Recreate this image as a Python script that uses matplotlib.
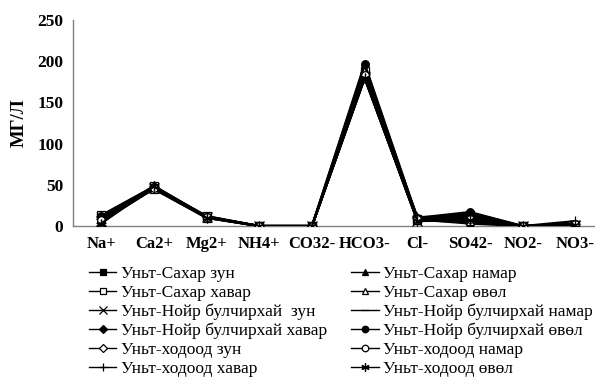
import matplotlib
matplotlib.use("Agg")
from matplotlib import pyplot as plt

ions = ["Na+", "Ca2+", "Mg2+", "NH4+", "CO32-", "HCO3-", "Cl-", "SO42-", "NO2-", "NO3-"]

sahar_zun = [12, 47, 11, 0, 0, 185, 9, 14, 0, 1]
sahar_namar = [10, 46, 11, 0, 0, 182, 8, 3, 0, 2]
sahar_havar = [13, 48, 12, 0, 0, 188, 8, 10, 0, 1]
sahar_uvul = [8, 45, 10, 0, 0, 180, 7, 6, 0, 2]
noir_zun = [6, 46, 11, 0, 0, 181, 6, 8, 0, 1]
noir_namar = [9, 47, 11, 0, 0, 184, 10, 12, 0, 3]
noir_havar = [11, 48, 12, 0, 0, 195, 9, 16, 0, 1]
noir_uvul = [12, 47, 11, 0, 0, 197, 10, 17, 0, 2]
hodood_zun = [5, 45, 10, 0, 0, 179, 7, 5, 0, 1]
hodood_namar = [7, 46, 11, 0, 0, 183, 8, 9, 0, 2]
hodood_havar = [4, 49, 11, 0, 0, 180, 11, 11, 0, 6]
hodood_uvul = [3, 48, 10, 0, 0, 180, 6, 7, 0, 1]

# (label, values, marker, filled)
left_col = [
    ("Уньт-Сахар зун", sahar_zun, "s", True),
    ("Уньт-Сахар хавар", sahar_havar, "s", False),
    ("Уньт-Нойр булчирхай  зун", noir_zun, "x", True),
    ("Уньт-Нойр булчирхай хавар", noir_havar, "D", True),
    ("Уньт-ходоод зун", hodood_zun, "D", False),
    ("Уньт-ходоод хавар", hodood_havar, "+", True),
]
right_col = [
    ("Уньт-Сахар намар", sahar_namar, "^", True),
    ("Уньт-Сахар өвөл", sahar_uvul, "^", False),
    ("Уньт-Нойр булчирхай намар", noir_namar, "_", True),
    ("Уньт-Нойр булчирхай өвөл", noir_uvul, "o", True),
    ("Уньт-ходоод намар", hodood_namar, "o", False),
    ("Уньт-ходоод өвөл", hodood_uvul, (6, 2, 0), True),
]

plt.rcParams["font.family"] = ["Liberation Serif", "DejaVu Serif"]

fig = plt.figure(figsize=(5.95, 3.78), dpi=100)
ax = fig.add_axes((0.123, 0.402, 0.877, 0.545))

x = list(range(len(ions)))


def draw(series):
    handles = []
    for label, vals, marker, filled in series:
        ms = 4.5 if marker == "D" else 5.5
        if marker in ("x", "+", "_", (6, 2, 0)):
            ms = 7
        line, = ax.plot(x, vals, color="black", lw=1.6, marker=marker,
                        markersize=ms, markeredgewidth=0.9,
                        markerfacecolor="black" if filled else "white",
                        markeredgecolor="black", label=label, zorder=3)
        handles.append(line)
    return handles


h_left = draw(left_col)
h_right = draw(right_col)

ax.set_xlim(-0.53, 9.37)
ax.set_ylim(0, 250)
ax.set_yticks([0, 50, 100, 150, 200, 250])
ax.set_xticks(x)
ax.set_xticklabels(ions, fontweight="bold", fontsize=12)
for t in ax.get_yticklabels():
    t.set_fontweight("bold")
    t.set_fontsize(12.5)
ax.tick_params(length=0, pad=7)
ax.set_ylabel("МГ/Л", fontweight="bold", fontsize=13.5, labelpad=7)

for side in ("top", "right"):
    ax.spines[side].set_visible(False)
for side in ("left", "bottom"):
    ax.spines[side].set_color("#808080")
    ax.spines[side].set_linewidth(1.0)
ax.spines["bottom"].set_zorder(1)

legend_kw = dict(frameon=False, fontsize=12.5, handlelength=1.6,
                 handletextpad=0.25, labelspacing=0.15, borderaxespad=0,
                 borderpad=0, loc="upper left")
legends = [
    fig.legend(handles=h_left, bbox_to_anchor=(0.149, 0.296), **legend_kw),
    fig.legend(handles=h_right, bbox_to_anchor=(0.590, 0.296), **legend_kw),
]
for leg in legends:
    for ln in leg.get_lines():
        ln.set_linewidth(1.0)
        ln.set_markersize(ln.get_markersize() * 0.85)

fig.savefig("out.png", dpi=100)
